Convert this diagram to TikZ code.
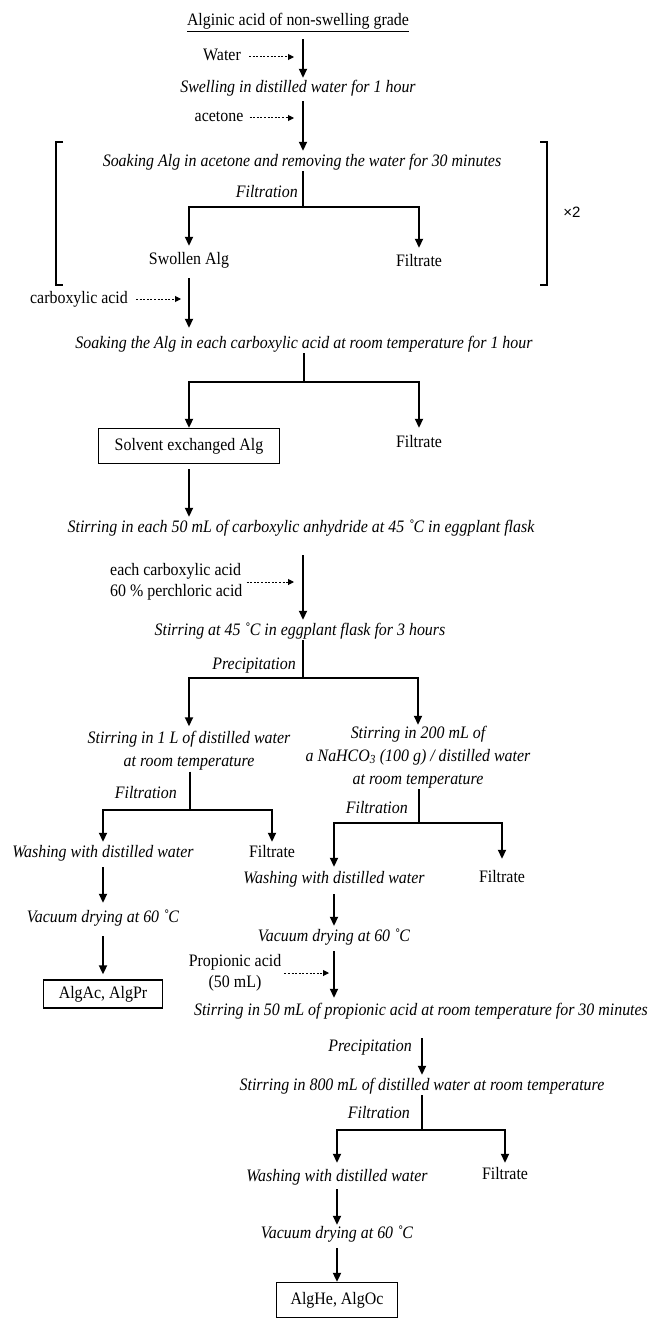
\documentclass[tikz,border=0pt]{standalone}
\usepackage{fontspec}
\setmainfont{Liberation Serif}[FakeStretch=0.91]
\setsansfont{Liberation Sans}
\usetikzlibrary{arrows.meta}

\newcommand\fs{\fontsize{17.5}{21}\selectfont}
\tikzset{
  plain/.style={inner sep=1pt, font=\fs},
  txt/.style={plain, text height=12pt, text depth=4pt},
  stepit/.style={txt, font=\fs\itshape},
  stepml/.style={inner sep=1pt, align=center, font=\fontsize{17.5}{23}\selectfont\itshape},
  boxed/.style={txt, draw, line width=1.3pt},
  link/.style={line width=1.8pt},
  flow/.style={link, shorten <=3pt, shorten >=2pt, -{Triangle[length=9pt,width=8pt]}},
  addin/.style={line width=1pt, dash pattern=on 2pt off 1.6pt, -{Triangle[length=6pt,width=6pt]}},
}

\begin{document}
\begin{tikzpicture}[x=1pt, y=-1pt]
  \useasboundingbox (0,0) rectangle (653,1319);

  % start material and solvent exchange with acetone
  \node[txt] (alg) at (298,22) {\underline{Alginic acid of non-swelling grade}};
  \node[txt] (water) at (222,57) {Water};
  \node[stepit] (swell) at (298,89) {Swelling in distilled water for 1 hour};
  \node[txt] (acetone) at (219,118) {acetone};
  \node[stepit] (soak1) at (302,162) {Soaking Alg in acetone and removing the water for 30 minutes};
  \node[stepit, anchor=east] (filt1) at (299,193) {Filtration};
  \coordinate (ax1) at (303,207);
  \node[txt] (swollen) at (189,260) {Swollen Alg};
  \node[txt] (waste1) at (419,262) {Filtrate};

  % repeat bracket
  \draw[link] (63,142) -- (56,142) -- (56,285) -- (63,285);
  \draw[link] (540,142) -- (547,142) -- (547,285) -- (540,285);
  \node[font=\sffamily\fontsize{15}{18}\selectfont] (twice) at (572,212) {×2};

  % exchange with carboxylic acid
  \node[txt] (carbox) at (79,299) {carboxylic acid};
  \node[stepit] (soak2) at (304,344) {Soaking the Alg in each carboxylic acid at room temperature for 1 hour};
  \coordinate (ax2) at (304,382);
  \node[boxed, minimum width=181pt, minimum height=35pt] (solvent) at (189,446) {Solvent exchanged Alg};
  \node[txt] (waste2) at (419,443) {Filtrate};

  % esterification
  \node[stepit] (anhyd) at (301,528) {Stirring in each 50 mL of carboxylic anhydride at 45 ˚C in eggplant flask};
  \node[plain, align=left, anchor=west] (perchl) at (109,582) {each carboxylic acid\\60 \% perchloric acid};
  \node[stepit] (stir45) at (300,631) {Stirring at 45 ˚C in eggplant flask for 3 hours};
  \node[stepit, anchor=east] (prec1) at (297,665) {Precipitation};
  \coordinate (ax3) at (303,678);
  \node[stepml] (water1L) at (189,751) {Stirring in 1 L of distilled water\\at room temperature};
  \node[stepml] (bicarb) at (418,757) {Stirring in 200 mL of\\a NaHCO\textsubscript{3} (100 g) / distilled water\\at room temperature};

  % left branch: AlgAc, AlgPr
  \node[stepit, anchor=east] (filt2) at (178,794) {Filtration};
  \coordinate (ax4) at (190,810);
  \node[stepit] (wash1) at (103,853) {Washing with distilled water};
  \node[txt] (waste3) at (272,853) {Filtrate};
  \node[stepit] (vac1) at (103,918) {Vacuum drying at 60 ˚C};
  \node[boxed, minimum width=119pt, minimum height=28pt] (prod1) at (103,994) {AlgAc, AlgPr};

  % right branch: AlgHe, AlgOc
  \node[stepit, anchor=east] (filt3) at (409,809) {Filtration};
  \coordinate (ax5) at (419,823);
  \node[stepit] (wash2) at (334,879) {Washing with distilled water};
  \node[txt] (waste4) at (502,878) {Filtrate};
  \node[stepit] (vac2) at (334,937) {Vacuum drying at 60 ˚C};
  \node[plain, align=center] (propac) at (235,973) {Propionic acid\\(50 mL)};
  \node[stepit] (stirprop) at (421,1011) {Stirring in 50 mL of propionic acid at room temperature for 30 minutes};
  \node[stepit, anchor=east] (prec2) at (413,1047) {Precipitation};
  \node[stepit] (stir800) at (422,1086) {Stirring in 800 mL of distilled water at room temperature};
  \node[stepit, anchor=east] (filt4) at (411,1114) {Filtration};
  \coordinate (ax6) at (422,1130);
  \node[stepit] (wash3) at (337,1177) {Washing with distilled water};
  \node[txt] (waste5) at (505,1175) {Filtrate};
  \node[stepit] (vac3) at (337,1234) {Vacuum drying at 60 ˚C};
  \node[boxed, minimum width=121pt, minimum height=35pt] (prod2) at (337,1300) {AlgHe, AlgOc};

  % connectors
  \draw[flow, shorten <=8pt] (alg.south -| ax1) -- (swell.north -| ax1);
  \draw[addin, shorten <=7pt, shorten >=9pt] (water.east) -- (water.east -| ax1);
  \draw[flow] (swell.south -| ax1) -- (soak1.north -| ax1);
  \draw[addin, shorten <=5pt, shorten >=9pt] (acetone.east) -- (acetone.east -| ax1);
  \draw[link] (soak1.south -| ax1) -- (ax1);
  \draw[flow, shorten <=0pt, shorten >=5pt] (ax1) -| (swollen.north);
  \draw[flow, shorten <=0pt, shorten >=5pt] (ax1) -| (waste1.north);
  \draw[flow, shorten <=9pt, shorten >=7pt] (swollen) -- (soak2.north -| swollen);
  \draw[addin, shorten <=7pt, shorten >=8pt] (carbox.east) -- (carbox.east -| swollen);
  \draw[link] (soak2.south -| ax2) -- (ax2);
  \draw[flow, shorten <=0pt, shorten >=0pt] (ax2) -| (solvent.north);
  \draw[flow, shorten <=0pt, shorten >=6pt] (ax2) -| (waste2.north);
  \draw[flow, shorten <=5pt] (solvent) -- (anhyd.north -| solvent);
  \draw[flow, shorten <=18pt] (anhyd.south -| ax1) -- (stir45.north -| ax1);
  \draw[addin, shorten <=3pt, shorten >=9pt] (perchl.east) -- (perchl.east -| ax1);
  \draw[link] (stir45.south -| ax3) -- (ax3);
  \draw[flow, shorten <=0pt, shorten >=4pt] (ax3) -| (water1L.north);
  \draw[flow, shorten <=0pt, shorten >=0pt] (ax3) -| (bicarb.north);
  \draw[link] (water1L.south -| ax4) -- (ax4);
  \draw[flow, shorten <=0pt, shorten >=2pt] (ax4) -| (wash1.north);
  \draw[flow, shorten <=0pt, shorten >=2pt] (ax4) -| (waste3.north);
  \draw[flow, shorten <=5pt, shorten >=6pt] (wash1) -- (vac1);
  \draw[flow, shorten <=9pt, shorten >=5pt] (vac1) -- (prod1);
  \draw[link] (bicarb.south -| ax5) -- (ax5);
  \draw[flow, shorten <=0pt, shorten >=3pt] (ax5) -| (wash2.north);
  \draw[flow, shorten <=0pt, shorten >=10pt] (ax5) -| (waste4.north);
  \draw[flow, shorten <=6pt] (wash2) -- (vac2);
  \draw[flow, shorten <=5pt, shorten >=4pt] (vac2.south) -- (vac2.south |- stirprop.north);
  \draw[addin, shorten <=2pt, shorten >=5pt] (propac.east) -- (propac.east -| vac2);
  \draw[flow, shorten <=18pt] (stirprop.south -| stir800) -- (stir800.north);
  \draw[link] (stir800.south -| ax6) -- (ax6);
  \draw[flow, shorten <=0pt, shorten >=5pt] (ax6) -| (wash3.north);
  \draw[flow, shorten <=0pt, shorten >=3pt] (ax6) -| (waste5.north);
  \draw[flow, shorten <=3pt, shorten >=0pt] (wash3) -- (vac3);
  \draw[flow, shorten <=5pt, shorten >=0pt] (vac3) -- (prod2);
\end{tikzpicture}
\end{document}
